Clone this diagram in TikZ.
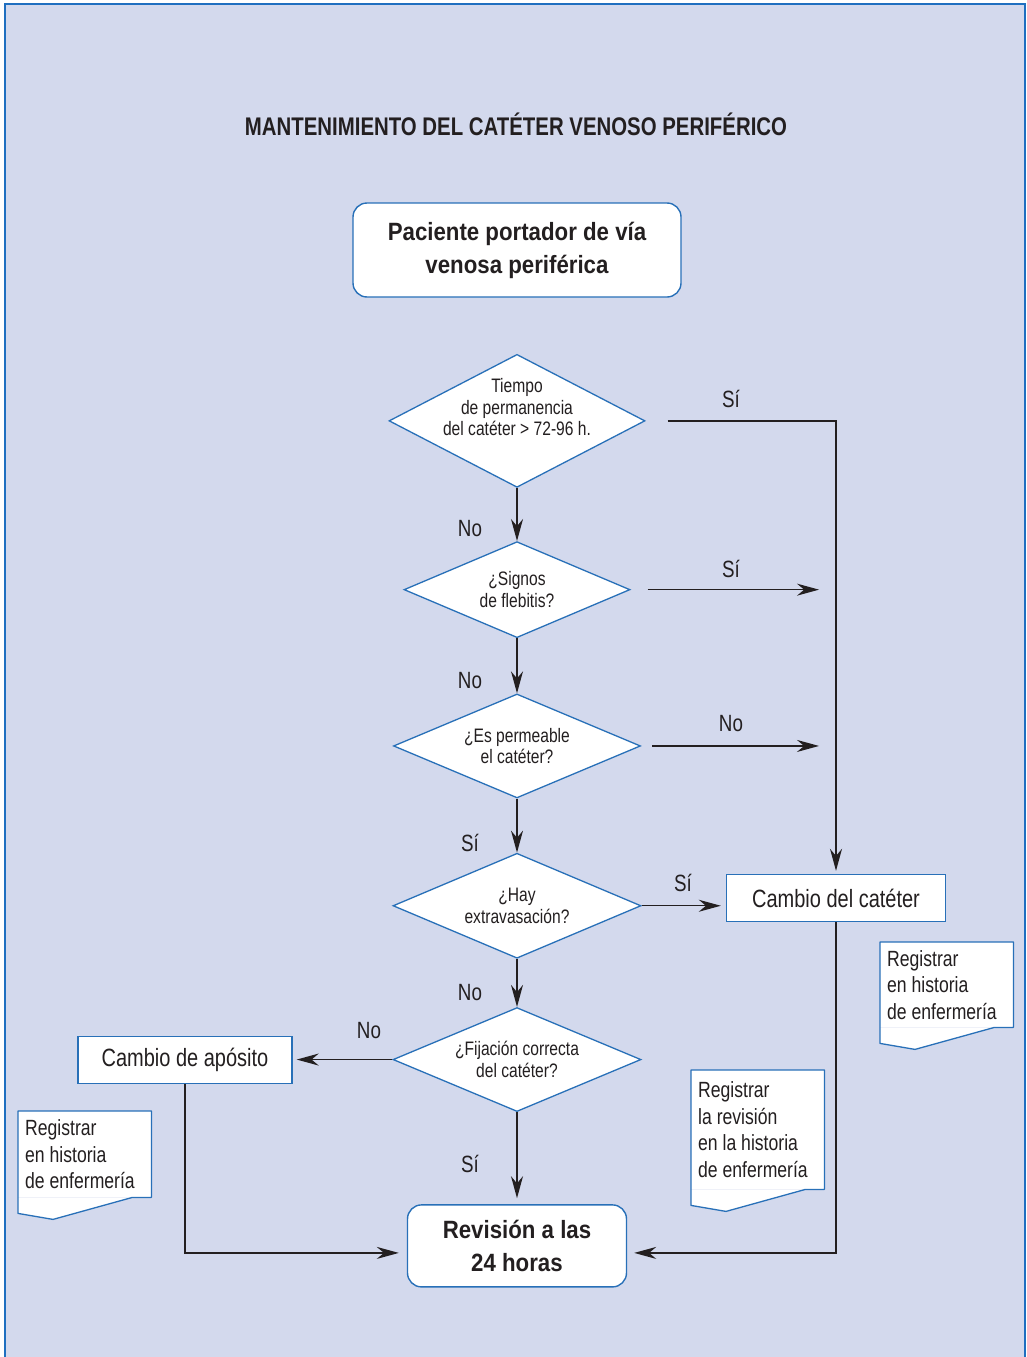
\documentclass[tikz,border=0pt]{standalone}
\usepackage{fontspec}
\setmainfont{Liberation Sans}[FakeStretch=0.8]
\newfontfamily\boxfont{Liberation Sans}[FakeStretch=0.89]
\usetikzlibrary{arrows.meta,positioning,calc,shapes.geometric}
\definecolor{Panel}{HTML}{D3D9ED}
\definecolor{Frame}{HTML}{1F6FC0}
\definecolor{Edge}{HTML}{2870B8}
\definecolor{Ink}{HTML}{231F20}
\tikzset{
  titletext/.style={font=\fontsize{25.5}{30}\selectfont\bfseries,text=Ink},
  startbox/.style={draw=Edge,fill=white,line width=1.4pt,rounded corners=14pt,align=center,font=\boxfont\fontsize{25}{33}\selectfont\bfseries,text=Ink},
  decision/.style={diamond,aspect=2,draw=Edge,fill=white,line width=1.3pt,inner sep=-12pt,align=center,font=\fontsize{19.5}{21.5}\selectfont,text=Ink},
  actbox/.style={draw=Edge,fill=white,line width=1.4pt,minimum width=219pt,minimum height=47pt,font=\fontsize{25}{30}\selectfont,text=Ink},
  docbox/.style={fill=white,anchor=north west,align=left,inner xsep=7pt,text width=119pt,minimum width=133pt,font=\fontsize{22}{26.5}\selectfont,text=Ink,execute at begin node={\spaceskip=0pt\xspaceskip=0pt}},
  docline/.style={draw=Edge,line width=1.3pt,line join=round},
  answer/.style={font=\fontsize{23.5}{28}\selectfont,text=Ink},
  line/.style={-{Stealth[length=22pt,width=12pt]},draw=Ink,line width=1.4pt}
}
\newcommand{\regshape}[1]{%
  \fill[white] (#1.south west) -- (#1.south east) -- ++(-19,0) -- ($(#1.south west)+(35,22)$) -- ($(#1.south west)+(0,16)$) -- cycle;
  \draw[docline] (#1.north west) -- (#1.north east) -- (#1.south east) -- ++(-19,0) -- ($(#1.south west)+(35,22)$) -- ($(#1.south west)+(0,16)$) -- cycle;}

\begin{document}
\begin{tikzpicture}[x=1pt,y=-1pt]
  \useasboundingbox (0,0) rectangle (1027,1357);
  \fill[Panel] (5,4) rectangle (1025,1357);
  \draw[Frame,line width=1.6pt] (5,1357) -- (5,4) -- (1025,4) -- (1025,1357);

  \node[titletext] (title) at (516,124) {MANTENIMIENTO DEL CATÉTER VENOSO PERIFÉRICO};
  \node[startbox,minimum width=328pt,minimum height=94pt] (start) at (517,250) {Paciente portador de vía\\venosa periférica};
  \node[decision,minimum width=256pt,minimum height=133pt,below=56pt of start] (tiempo) {Tiempo\\de permanencia\\del catéter > 72-96 h.\\[6pt]};
  \node[decision,minimum width=226pt,minimum height=96pt,below=53pt of tiempo] (flebitis) {¿Signos\\de flebitis?};
  \node[decision,minimum width=247pt,minimum height=104pt,below=55pt of flebitis] (permeable) {¿Es permeable\\el catéter?};
  \node[decision,minimum width=248pt,minimum height=105pt,below=54pt of permeable] (extrav) {¿Hay\\extravasación?};
  \node[decision,minimum width=248pt,minimum height=104pt,below=48pt of extrav] (fijacion) {¿Fijación correcta\\del catéter?};
  \node[startbox,minimum width=219pt,minimum height=82pt,below=92pt of fijacion] (revision) {Revisión a las\\24 horas};

  \node[actbox] (cambiocat) at (836,898) {Cambio del catéter};
  \node[actbox,minimum width=214pt] (cambioapo) at (185,1060) {Cambio de apósito};

  \node[docbox,minimum height=85pt] (regcat) at (880,942) {Registrar\\en historia\\de enfermería};
  \node[docbox,minimum height=119pt] (regrev) at (691,1070) {Registrar\\la revisión\\en la historia\\de enfermería};
  \node[docbox,minimum height=86pt] (regapo) at (18,1111) {Registrar\\en historia\\de enfermería};
  \regshape{regcat}
  \regshape{regrev}
  \regshape{regapo}

  \draw[line,shorten <=22pt,shorten >=3pt] (tiempo.east) -| (cambiocat.north);
  \draw[line] (tiempo) -- (flebitis);
  \draw[line,shorten <=17pt,shorten >=17pt] (flebitis.east) -- (flebitis.east -| cambiocat.north);
  \draw[line] (flebitis) -- (permeable);
  \draw[line,shorten <=11pt,shorten >=17pt] (permeable.east) -- (permeable.east -| cambiocat.north);
  \draw[line] (permeable) -- (extrav);
  \draw[line,shorten >=5pt] (extrav.east) -- (extrav.east -| cambiocat.west);
  \draw[line] (extrav) -- (fijacion);
  \draw[line,shorten >=4pt] (fijacion.west) -- (fijacion.west -| cambioapo.east);
  \draw[line,shorten >=6pt] (fijacion) -- (revision);
  \draw[line,shorten >=8pt] (cambioapo.south) |- ([yshift=-7pt]revision.west);
  \draw[line,shorten >=7pt] (cambiocat.south) |- ([yshift=-7pt]revision.east);

  \node[answer] (sitiempo) at (731,399) {Sí};
  \node[answer] (notiempo) at (470,529) {No};
  \node[answer] (siflebitis) at (731,569) {Sí};
  \node[answer] (noflebitis) at (470,681) {No};
  \node[answer] (nopermeable) at (731,724) {No};
  \node[answer] (sipermeable) at (470,843) {Sí};
  \node[answer] (siextrav) at (683,883) {Sí};
  \node[answer] (noextrav) at (470,993) {No};
  \node[answer] (nofijacion) at (369,1031) {No};
  \node[answer] (sifijacion) at (470,1164) {Sí};
\end{tikzpicture}
\end{document}
